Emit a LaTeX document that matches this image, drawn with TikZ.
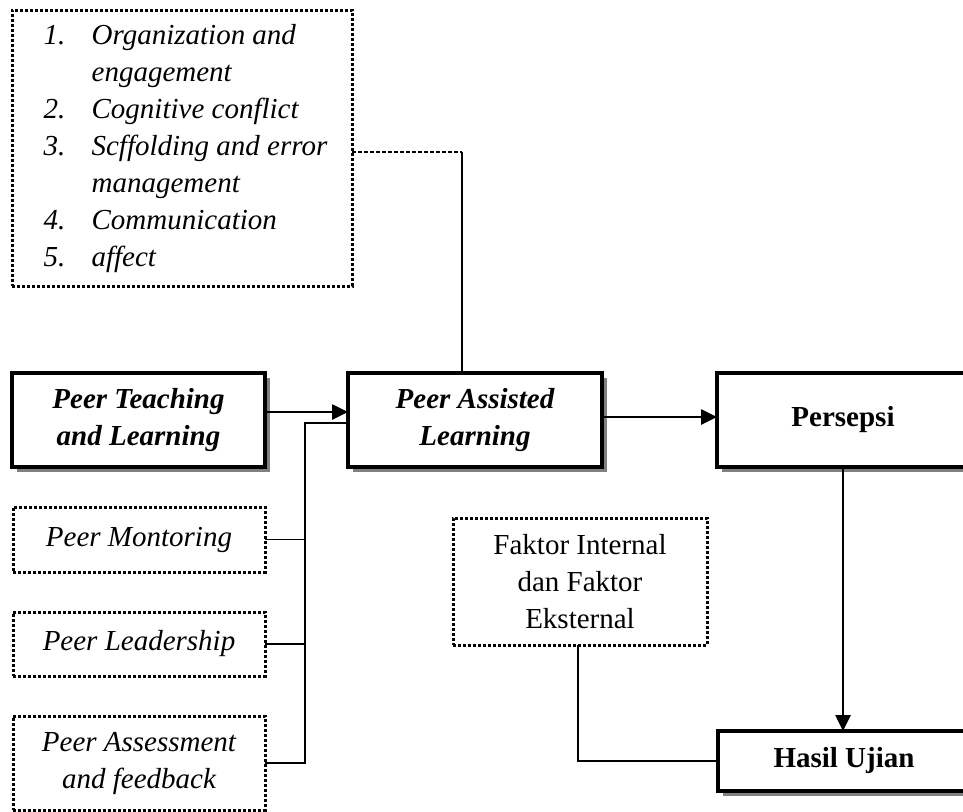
\documentclass[tikz,border=0pt]{standalone}
\usepackage{fontspec}
\setmainfont{Liberation Serif}
\usetikzlibrary{arrows.meta,shadows}
\begin{document}
\begin{tikzpicture}[x=1pt,y=-1pt,
  every node/.style={font=\fontsize{29}{37}\selectfont, inner sep=0pt, outer sep=0pt},
  solidbox/.style={draw, line width=3.2pt, fill=white, align=center,
    drop shadow={shadow xshift=5pt, shadow yshift=-5pt, opacity=1, fill=black!50}},
  dotbox/.style={draw, line width=3pt, dash pattern=on 3pt off 2pt, fill=white, align=center},
  arrowline/.style={line width=2.6pt, -{Triangle[length=16pt,width=15pt]}},
  conn/.style={line width=1.7pt},
  dashconn/.style={line width=1.5pt, dash pattern=on 4pt off 2pt}
]
\useasboundingbox (0,0) rectangle (963,811);
\fill[white] (0,0) rectangle (963,811);

% list box
\node[dotbox, minimum width=340pt, minimum height=276pt] (list) at (182,148)
 {\itshape\begin{tabular}{@{\hspace{7pt}}p{48pt}@{}l@{}}
  1. & Organization and\\
     & engagement\\
  2. & Cognitive conflict\\
  3. & Scffolding and error\\
     & management\\
  4. & Communication\\
  5. & affect
 \end{tabular}};

% main boxes
\node[solidbox, minimum width=253pt, minimum height=94pt] (ptl) at (138.5,420)
 {\bfseries\itshape Peer Teaching\\\bfseries\itshape and Learning};
\node[solidbox, minimum width=254pt, minimum height=94pt] (pal) at (475,420)
 {\bfseries\itshape Peer Assisted\\\bfseries\itshape Learning};
\node[solidbox, minimum width=252pt, minimum height=94pt] (pers) at (843,420)
 {\raisebox{7pt}{\bfseries Persepsi}};
\node[solidbox, minimum width=252pt, minimum height=60pt] (hasil) at (844,761)
 {\bfseries Hasil Ujian};

% dotted boxes
\node[dotbox, minimum width=252pt, minimum height=65pt] (mont) at (139,539.5)
 {\raisebox{3pt}{\itshape Peer Montoring}};
\node[dotbox, minimum width=252pt, minimum height=64pt] (lead) at (139,644)
 {\raisebox{3pt}{\itshape Peer Leadership}};
\node[dotbox, minimum width=252pt, minimum height=94pt] (assess) at (139,763)
 {\raisebox{5pt}{\itshape\begin{tabular}{@{}c@{}}Peer Assessment\\and feedback\end{tabular}}};
\node[dotbox, minimum width=254pt, minimum height=127pt] (faktor) at (580,581.5)
 {Faktor Internal\\dan Faktor\\Eksternal};

% helper coordinates
\coordinate (bus) at (305,0);
\path ([yshift=-4pt]list.east) coordinate (lp);
\path ([xshift=-13pt]pal.north) coordinate (pp);
\coordinate (c1) at (pp |- lp);

% connectors
\draw[dashconn] (lp) -- (c1);
\draw[conn] (c1) -- (pp);
\draw[arrowline] ([yshift=8pt]ptl.east) -- ([yshift=8pt]pal.west);
\draw[arrowline] ([yshift=3pt]pal.east) -- ([yshift=3pt]pers.west);
\draw[arrowline] (pers.south) -- (pers.south |- hasil.north);
\draw[conn] ([yshift=-3pt]pal.west) -| (bus |- assess.east) -- (assess.east);
\draw[conn] (mont.east) -- (bus |- mont.east);
\draw[conn] (lead.east) -- (bus |- lead.east);
\draw[conn] ([xshift=-2pt]faktor.south) |- (hasil.west);
\end{tikzpicture}
\end{document}
